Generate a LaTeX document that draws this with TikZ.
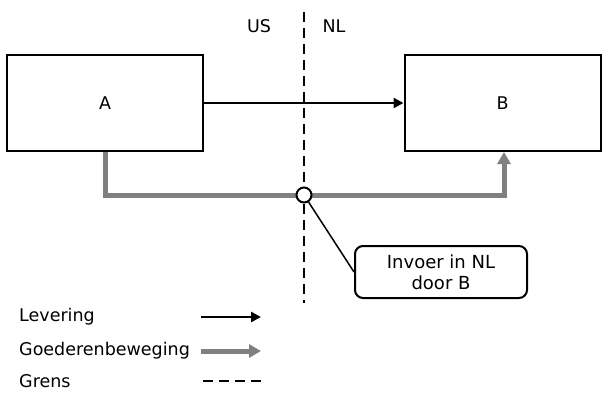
\documentclass[tikz,border=0pt]{standalone}
\usepackage{fontspec}
\setmainfont{DejaVu Sans}
\usetikzlibrary{arrows.meta}
\definecolor{goodsgray}{RGB}{128,128,128}
\tikzset{
  party/.style={draw=black, line width=2pt, minimum width=196pt, minimum height=96pt, inner sep=0pt, font=\fontsize{17.5}{20}\selectfont},
  lbl/.style={inner sep=0pt, font=\fontsize{17.5}{20}\selectfont},
  levering/.style={draw=black, line width=2.5pt, -{Triangle[length=10pt,width=10pt]}},
  goods/.style={draw=goodsgray, line width=5pt, -{Triangle[length=12pt,width=13pt]}},
  grens/.style={draw=black, line width=2.8pt, dash pattern=on 10pt off 6pt},
  callout/.style={draw=black, line width=2pt, rounded corners=8pt, minimum width=172pt, minimum height=52pt, align=center, font=\fontsize{18}{21}\selectfont, inner sep=0pt},
}
\begin{document}
\begin{tikzpicture}[x=1pt,y=-1pt]
\useasboundingbox (0,0) rectangle (608,400);
% border
\coordinate (gtop) at (304,12);
\coordinate (gbot) at (304,303);
\draw[grens] (gtop) -- (gbot);
\node[lbl] (us) at (259,26) {US};
\node[lbl] (nl) at (334,26) {NL};
% parties
\node[party] (A) at (105,103) {A};
\node[party] (B) at (502.5,103) {B};
\draw[levering] (A.east) -- (B.west);
% goods movement
\coordinate (gb) at (504,152);
\coordinate (cross) at (304,195);
\draw[goods, line join=miter] (A.south) |- (cross) -| (gb);
% import point
\node[circle, draw=black, fill=white, line width=2pt, minimum size=15pt, inner sep=0pt] (circ) at (cross) {};
\node[callout] (call) at (441,272) {Invoer in NL\\door B};
\draw[black, line width=1.5pt] (circ) -- (call.west);
% legend
\node[lbl, anchor=west] (l1) at (19,317) {Levering};
\node[lbl, anchor=west] (l2) at (19,351) {Goederenbeweging};
\node[lbl, anchor=west] (l3) at (19,381) {Grens};
\coordinate (l1a) at (201,317);
\coordinate (l1b) at (261,317);
\coordinate (l2a) at (201,351);
\coordinate (l2b) at (261,351);
\coordinate (l3a) at (203,381);
\coordinate (l3b) at (263,381);
\draw[levering] (l1a) -- (l1b);
\draw[goods] (l2a) -- (l2b);
\draw[grens] (l3a) -- (l3b);
\end{tikzpicture}
\end{document}
